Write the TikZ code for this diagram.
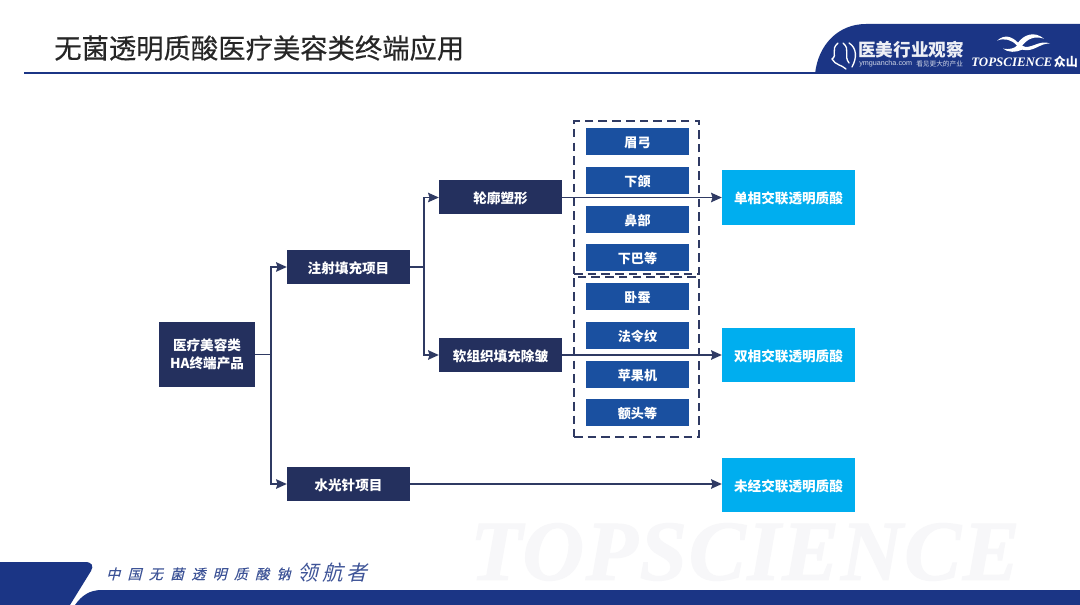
\documentclass[tikz,border=0pt]{standalone}
\usepackage{fontspec}
\setmainfont{Liberation Sans}
\newfontfamily\cjk{Noto Sans CJK SC}
\newfontfamily\cjktitle[FakeBold=0.35]{Noto Sans CJK SC}
\newfontfamily\cjkslant[FakeSlant=0.25,LetterSpace=52,FakeBold=0.2]{Noto Sans CJK SC}
\newfontfamily\cjkslantb[FakeSlant=0.25,LetterSpace=20]{Noto Sans CJK SC}
\newfontfamily\topserif{Liberation Serif}
\newfontfamily\wmserif[LetterSpace=2,FakeBold=1.2]{Liberation Serif Bold Italic}
\usetikzlibrary{arrows.meta,calc}
\definecolor{darkbox}{HTML}{24305E}
\definecolor{midbox}{HTML}{1A50A0}
\definecolor{cyanbox}{HTML}{00AEEF}
\definecolor{navy}{HTML}{1B3585}
\definecolor{linecol}{HTML}{2F3A63}
\definecolor{wm}{HTML}{F7F7F9}
\tikzset{
  x=0.75pt,y=-0.75pt,
  base/.style={anchor=center,inner sep=0,outer sep=0,align=center,text=white,font=\cjk\bfseries\fontsize{10.2pt}{13.5pt}\selectfont},
  darknode/.style={base,fill=darkbox,minimum width=92.5pt,minimum height=25.5pt,text height=10.6pt,text depth=1pt},
  leftnode/.style={base,fill=darkbox,minimum width=72pt,minimum height=49pt},
  midnode/.style={base,fill=midbox,minimum width=77pt,minimum height=20.5pt,font=\cjk\bfseries\fontsize{9.8pt}{12pt}\selectfont,text height=10.2pt,text depth=1pt},
  cyannode/.style={base,fill=cyanbox,minimum width=100pt,minimum height=41pt,text height=10.6pt,text depth=1pt},
  conn/.style={draw=linecol,line width=1.4pt},
  arrowconn/.style={conn,-{Stealth[length=8pt,width=7pt,inset=1pt]}},
  dashbox/.style={draw=linecol,line width=1.6pt,dash pattern=on 6.5pt off 3.8pt},
}
\begin{document}
\begin{tikzpicture}
\useasboundingbox (0,0) rectangle (1080,605);
\fill[white] (0,0) rectangle (1080,605);
% watermark
\node[anchor=center,inner sep=0,text=wm,font=\wmserif\fontsize{64pt}{64pt}\selectfont] (wmark) at (745,552) {TOPSCIENCE};
% header
\node[anchor=west,inner sep=0,font=\cjktitle\fontsize{20.5pt}{24pt}\selectfont,text=black!85] (title) at (54,48) {无菌透明质酸医疗美容类终端应用};
\fill[navy] (24,72.5) rectangle (816,74.5);
\fill[navy] (815,74) .. controls (818,45) and (838,24) .. (866,24) -- (1080,24) -- (1080,74) -- cycle;
\node[anchor=center,inner sep=0,text=white!92!navy,font=\cjk\bfseries\fontsize{13.2pt}{15pt}\selectfont] (brand) at (911,50) {医美行业观察};
\node[anchor=west,inner sep=0,text=white!80!navy,font=\fontsize{5.4pt}{6pt}\selectfont] (url) at (859,63.5) {ymguancha.com};
\node[anchor=west,inner sep=0,text=white!80!navy,font=\cjk\fontsize{5pt}{6pt}\selectfont] (slogan) at (916,63.5) {看见更大的产业};
\node[anchor=west,inner sep=0,text=white,font=\topserif\bfseries\itshape\fontsize{9.7pt}{11pt}\selectfont] (tops) at (971,62) {TOPSCIENCE};
\node[anchor=east,inner sep=0,text=white,font=\cjk\bfseries\fontsize{9pt}{11pt}\selectfont] (zs) at (1078,62) {众山};
% logo marks
\draw[white,line width=1pt,line cap=round] (838,43) .. controls (830,50) and (838,55) .. (832,59) .. controls (835,65) and (842,65) .. (846,69);
\draw[white,line width=1pt,line cap=round] (843,43) .. controls (851,50) and (843,55) .. (849,63);
\draw[white,line width=1pt,line cap=round] (849,43) .. controls (857,48) and (857,58) .. (852,67);
\begin{scope}[yshift=2.5pt]
\fill[white] (997,44) .. controls (1005,37) and (1012,40) .. (1018,46) .. controls (1024,38) and (1034,34) .. (1044,42) .. controls (1034,39) and (1028,42) .. (1022,49) .. controls (1030,54) and (1040,42) .. (1050,47) .. controls (1040,46) and (1034,56) .. (1022,53) .. controls (1016,56) and (1008,56) .. (1003,52) .. controls (1009,53) and (1014,52) .. (1017,49) .. controls (1012,43) and (1004,41) .. cycle;
\end{scope}
% footer
\fill[navy] (0,562) -- (85,562) .. controls (92,562) and (94,566) .. (91,571) -- (70,605) -- (0,605) -- cycle;
\fill[navy] (75,605) .. controls (82,595) and (90,590) .. (102,590) -- (1080,590) -- (1080,605) -- cycle;
\node[anchor=west,inner sep=0,text=navy!85,font=\cjkslant\fontsize{10.5pt}{12pt}\selectfont] (motto) at (106,574) {中国无菌透明质酸钠};
\node[anchor=west,inner sep=0,text=navy!85,font=\cjkslantb\fontsize{15.5pt}{18pt}\selectfont] (motto2) at (297,573) {领航者};
% dashed groups
\node[dashbox,minimum width=94pt,minimum height=115pt,inner sep=0,anchor=center] (groupa) at (636.5,197.5) {};
\node[dashbox,minimum width=94pt,minimum height=120pt,inner sep=0,anchor=center] (groupb) at (636.5,357) {};
% small boxes
\node[midnode] (m1) at (637.5,141.5) {眉弓};
\node[midnode] (m2) at (637.5,180.5) {下颌};
\node[midnode] (m3) at (637.5,219.5) {鼻部};
\node[midnode] (m4) at (637.5,257.5) {下巴等};
\node[midnode] (m5) at (637.5,296.5) {卧蚕};
\node[midnode] (m6) at (637.5,335.5) {法令纹};
\node[midnode] (m7) at (637.5,374.5) {苹果机};
\node[midnode] (m8) at (637.5,412.5) {额头等};
% main nodes
\node[leftnode] (root) at (207,354.5) {医疗美容类\\HA终端产品};
\node[darknode] (inj) at (348.5,267) {注射填充项目};
\node[darknode] (water) at (348.5,484) {水光针项目};
\node[darknode] (contour) at (500.5,197.5) {轮廓塑形};
\node[darknode] (soft) at (500.5,355) {软组织填充除皱};
\node[cyannode] (single) at (788.5,197.5) {单相交联透明质酸};
\node[cyannode] (double) at (788.5,355) {双相交联透明质酸};
\node[cyannode] (none) at (788.5,485) {未经交联透明质酸};
% connectors
\coordinate (t1) at (271,354.5);
\coordinate (t2) at (424,267);
\draw[conn] (root.east) -- (t1);
\draw[arrowconn] (t1) |- (inj.west);
\draw[arrowconn] (t1) |- (water.west);
\draw[conn] (inj.east) -- (t2);
\draw[arrowconn] (t2) |- (contour.west);
\draw[arrowconn] (t2) |- (soft.west);
\draw[arrowconn] (contour.east) -- (single.west);
\draw[arrowconn] (soft.east) -- (double.west);
\draw[arrowconn] (water.east) -- (water.east -| none.west);
\end{tikzpicture}
\end{document}
